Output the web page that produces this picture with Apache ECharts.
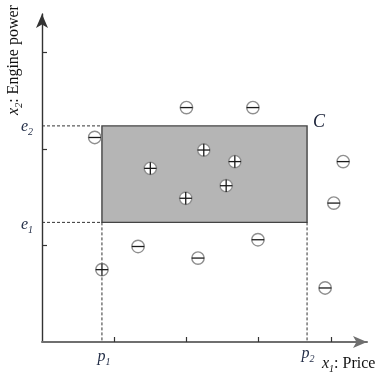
<!DOCTYPE html>
<html><head><meta charset="utf-8">
<script src="https://cdn.jsdelivr.net/npm/echarts@6/dist/echarts.min.js"></script>
<style>html,body{margin:0;padding:0;background:#fff}#c{width:379px;height:375px}</style>
</head><body><div id="c"></div>
<script>
// Negative examples (⊖)
const negX = [2.00, 2.92, 0.73, 4.17, 4.04, 2.99, 2.16, 1.33, 3.92];
const negY = [2.43, 2.43, 2.12, 1.87, 1.44, 1.06, 0.87, 0.99, 0.56];
// Positive examples (⊕)
const posX = [1.50, 2.24, 2.67, 2.55, 1.99, 0.83];
const posY = [1.80, 1.99, 1.87, 1.62, 1.49, 0.75];
// Concept rectangle C bounds
const priceBounds = [0.83, 3.67];   // p1, p2
const powerBounds = [1.24, 2.24];   // e1, e2
const xTickValues = [1, 2, 3, 4];
const yTickValues = [1, 2, 3];

const SERIF = '"Liberation Serif", "DejaVu Serif", serif';
const chart = echarts.init(document.getElementById('c'), null, {renderer: 'canvas'});

function markerItem(isPos) {
  return function (params, api) {
    const c = api.coord([api.value(0), api.value(1)]);
    const r = 6.2;
    const children = [
      {type: 'circle', shape: {cx: c[0], cy: c[1], r: r}, style: {fill: '#fff', stroke: '#8f8f8f', lineWidth: 1.4}},
      {type: 'line', shape: {x1: c[0] - r, y1: c[1], x2: c[0] + r, y2: c[1]}, style: {stroke: '#1a1a1a', lineWidth: 1.3}}
    ];
    if (isPos) children.push({type: 'line', shape: {x1: c[0], y1: c[1] - r, x2: c[0], y2: c[1] + r}, style: {stroke: '#1a1a1a', lineWidth: 1.3}});
    return {type: 'group', children: children};
  };
}

const rich = {
  i: {fontFamily: SERIF, fontStyle: 'italic', fontSize: 16, lineHeight: 21, verticalAlign: 'middle'},
  s: {fontFamily: SERIF, fontStyle: 'italic', fontSize: 10, lineHeight: 21, verticalAlign: 'bottom'},
  n: {fontFamily: SERIF, fontSize: 16, lineHeight: 21, verticalAlign: 'middle'}
};
function txt(x, y, text, color) {
  return {type: 'text', x: x, y: y, style: {text: text, rich: rich, fill: color, align: 'center', verticalAlign: 'middle'}};
}

const option = {
  animation: false,
  backgroundColor: '#fff',
  grid: {left: 42, right: 12, top: 14, bottom: 33},
  xAxis: {
    type: 'value', min: 0, max: 4.5,
    splitLine: {show: false},
    axisLabel: {show: false},
    axisTick: {show: true, inside: true, length: 5, customValues: xTickValues, lineStyle: {color: '#333', width: 1.2}},
    axisLine: {onZero: false, symbol: ['none', 'arrow'], symbolSize: [9, 14], lineStyle: {color: '#6f6f6f', width: 2}}
  },
  yAxis: {
    type: 'value', min: 0, max: 3.4,
    splitLine: {show: false},
    axisLabel: {show: false},
    axisTick: {show: true, inside: true, length: 5, customValues: yTickValues, lineStyle: {color: '#333', width: 1.2}},
    axisLine: {onZero: false, symbol: ['none', 'arrow'], symbolSize: [9, 14], lineStyle: {color: '#333', width: 1.4}}
  },
  series: [
    {
      type: 'custom', name: 'C', silent: true, clip: false, z: 1,
      data: [[priceBounds[0], powerBounds[0], priceBounds[1], powerBounds[1]]],
      renderItem: function (params, api) {
        const p1 = api.value(0), e1 = api.value(1), p2 = api.value(2), e2 = api.value(3);
        const tl = api.coord([p1, e2]), br = api.coord([p2, e1]);
        const o = api.coord([0, 0]);
        const axMax = api.coord([4.5, 3.4]);
        const dash = {stroke: '#333', lineWidth: 1, lineDash: [3, 2]};
        return {type: 'group', children: [
          {type: 'rect', shape: {x: tl[0], y: tl[1], width: br[0] - tl[0], height: br[1] - tl[1]}, style: {fill: '#b5b5b5', stroke: '#444', lineWidth: 1.4}},
          {type: 'line', shape: {x1: o[0], y1: tl[1], x2: tl[0], y2: tl[1]}, style: dash},
          {type: 'line', shape: {x1: o[0], y1: br[1], x2: tl[0], y2: br[1]}, style: dash},
          {type: 'line', shape: {x1: tl[0], y1: br[1], x2: tl[0], y2: o[1]}, style: dash},
          {type: 'line', shape: {x1: br[0], y1: br[1], x2: br[0], y2: o[1]}, style: dash},
          txt(o[0] - 15, tl[1] + 1, '{i|e}{s|2}', '#1f2a44'),
          txt(o[0] - 15, br[1] + 2, '{i|e}{s|1}', '#1f2a44'),
          txt(tl[0] + 2, o[1] + 15, '{i|p}{s|1}', '#1f2a44'),
          txt(br[0] + 1, o[1] + 12, '{i|p}{s|2}', '#1f2a44'),
          {type: 'text', x: br[0] + 12, y: tl[1] - 4, style: {text: 'C', fill: '#1a2238', align: 'center', verticalAlign: 'middle', font: 'italic 18px ' + SERIF}},
          {type: 'text', x: axMax[0] - 45, y: o[1] + 22, style: {text: '{i|x}{s|1}{n|: Price}', rich: rich, fill: '#111', align: 'left', verticalAlign: 'middle'}},
          {type: 'text', x: o[0] - 28, y: axMax[1] + 46, rotation: Math.PI / 2, style: {text: '{i|x}{s|2}{n|: Engine power}', rich: rich, fill: '#111', align: 'center', verticalAlign: 'middle'}}
        ]};
      }
    },
    {
      type: 'custom', name: 'negative', z: 3, clip: false,
      data: negX.map((x, i) => [x, negY[i]]),
      renderItem: markerItem(false)
    },
    {
      type: 'custom', name: 'positive', z: 3, clip: false,
      data: posX.map((x, i) => [x, posY[i]]),
      renderItem: markerItem(true)
    }
  ]
};
chart.setOption(option);
</script>
</body></html>
